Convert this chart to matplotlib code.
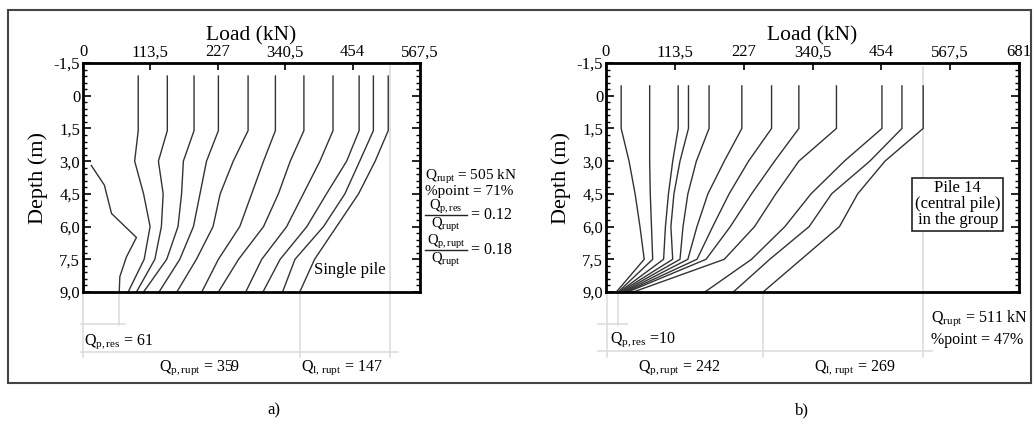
import numpy as np
import matplotlib
matplotlib.use("Agg")
import matplotlib.pyplot as plt
from matplotlib.ticker import MultipleLocator

plt.rcParams['font.family'] = ['Liberation Serif', 'DejaVu Serif']
plt.rcParams['mathtext.fontset'] = 'custom'
plt.rcParams['mathtext.rm'] = 'Liberation Serif'
plt.rcParams['mathtext.it'] = 'Liberation Serif:italic'

# ---- data (loads in kN, depths in m) ----
depth_a = [-0.9, 1.6, 3.0, 4.5, 6.0, 7.5, 9.0]
loads_a = [
    [93, 93, 87, 102, 113, 103, 76],
    [142, 142, 127, 135, 132, 121, 90],
    [187, 187, 169, 166, 160, 141, 102],
    [228, 228, 208, 197, 186, 163, 128],
    [278, 278, 253, 231, 219, 191, 158],
    [324, 324, 304, 284, 264, 228, 200],
    [372, 372, 349, 329, 304, 262, 228],
    [421, 421, 399, 371, 343, 301, 274],
    [465, 465, 444, 410, 377, 332, 303],
    [489, 489, 466, 441, 405, 357, 336],
    [514, 514, 492, 464, 427, 390, 365],
]
res_depth_a = [3.2, 4.1, 5.4, 6.5, 7.4, 8.3, 9.0]
res_load_a = [14, 36, 48, 90, 73, 62, 61]

depth_b = [-0.45, 1.5, 3.0, 4.5, 6.0, 7.5, 9.0]
loads_b = [
    [25, 25, 38, 48, 56, 63, 17],
    [72, 72, 72, 73, 75, 77, 20],
    [119, 119, 110, 103, 98, 95, 22],
    [136, 136, 122, 112, 107, 110, 24],
    [170, 170, 149, 135, 127, 122, 27],
    [224, 224, 195, 168, 150, 135, 30],
    [273, 273, 235, 203, 176, 150, 33],
    [318, 318, 278, 240, 205, 165, 36],
    [380, 380, 318, 280, 245, 195, 45],
    [455, 455, 393, 338, 295, 240, 163],
    [488, 488, 435, 372, 335, 270, 210],
    [523, 523, 460, 415, 385, 322, 259],
]

xticks_a = [0, 113.5, 227, 340.5, 454, 567.5]
xticks_b = [0, 113.5, 227, 340.5, 454, 567.5, 681]
yticks = [-1.5, 0, 1.5, 3.0, 4.5, 6.0, 7.5, 9.0]
ylabels = ["-1,5", "0", "1,5", "3,0", "4,5", "6,0", "7,5", "9,0"]

W, H = 1035, 432
fig = plt.figure(figsize=(W / 100, H / 100), dpi=100)


def fx(x):
    return x / W


def fy(y):
    return 1 - y / H


def xfmt(v):
    return f"{int(v)}" if v == int(v) else f"{v}".replace('.', ',')


def setup(ax, xt, xmax):
    ax.set_xlim(0, xmax)
    ax.set_ylim(9.0, -1.5)
    ax.xaxis.tick_top()
    ax.set_xticks(xt)
    ax.set_xticklabels([xfmt(v) for v in xt], fontsize=12)
    ax.set_yticks(yticks)
    ax.set_yticklabels(ylabels, fontsize=12)
    ax.yaxis.set_minor_locator(MultipleLocator(0.3))
    ax.tick_params(axis='y', which='both', direction='in', left=True, right=True, pad=2)
    ax.tick_params(axis='y', which='major', length=6, width=1.2)
    ax.tick_params(axis='y', which='minor', length=3, width=1)
    ax.tick_params(axis='x', which='major', direction='in', top=True, bottom=False,
                   length=5, width=1.2, pad=2)
    for s in ax.spines.values():
        s.set_linewidth(2)
    ax.set_xlabel("Load (kN)", fontsize=15.5, labelpad=3)
    ax.xaxis.set_label_position('top')
    ax.set_ylabel("Depth (m)", fontsize=16, labelpad=4)


lc = '#333333'
gc = '#dddddd'

# ---- panel a ----
ax1 = fig.add_axes([fx(83), fy(292), 337 / W, 229 / H])
setup(ax1, xticks_a, 567.5)
for ld in loads_a:
    ax1.plot(ld, depth_a, color=lc, lw=1.0)
ax1.plot(res_load_a, res_depth_a, color=lc, lw=1.0)
ax1.plot([517, 517], [-1.5, 12.0], color=gc, lw=1.2, clip_on=False, zorder=0)
ax1.plot([61, 61], [9.0, 10.5], color=gc, lw=1.2, clip_on=False)
ax1.plot([-3, 70], [10.45, 10.45], color=gc, lw=1.2, clip_on=False)
ax1.plot([-3, 530], [11.75, 11.75], color=gc, lw=1.2, clip_on=False)
ax1.plot([0, 0], [9.0, 12.0], color=gc, lw=1.2, clip_on=False)
ax1.plot([365, 365], [9.0, 12.0], color=gc, lw=1.2, clip_on=False)
ax1.text(450, 8.0, "Single pile", fontsize=12, ha='center', va='center')

fig.text(fx(84), fy(342), r"$\mathrm{Q_{p,res}}$ = 61", fontsize=11.5, va='center')
fig.text(fx(200), fy(368), r"$\mathrm{Q_{p,rupt}}$ = 359", fontsize=11.5, va='center', ha='center')
fig.text(fx(342), fy(368), r"$\mathrm{Q_{l,\,rupt}}$ = 147", fontsize=11.5, va='center', ha='center')
fig.text(fx(425), fy(180), r"$\mathrm{Q_{rupt}}$ = 505 kN", fontsize=11, va='baseline')
fig.text(fx(425), fy(195), "%point = 71%", fontsize=11, va='baseline')

# fractions drawn by hand: numerator, bar, denominator
for num, val, yc in [(r"$\mathrm{Q_{p,res}}$", "= 0.12", 215),
                     (r"$\mathrm{Q_{p,rupt}}$", "= 0.18", 250)]:
    fig.text(fx(446), fy(yc - 5), num, fontsize=10.5, ha='center', va='baseline')
    fig.add_artist(plt.Line2D([fx(425), fx(467)], [fy(yc), fy(yc)],
                              transform=fig.transFigure, color='#222222', lw=1.0))
    fig.text(fx(446), fy(yc + 13), r"$\mathrm{Q_{rupt}}$", fontsize=10.5, ha='center', va='baseline')
    fig.text(fx(471), fy(yc + 4), val, fontsize=11.5, va='baseline')

# ---- panel b ----
ax2 = fig.add_axes([fx(606), fy(292), 413 / W, 229 / H])
setup(ax2, xticks_b, 681)
for ld in loads_b:
    ax2.plot(ld, depth_b, color=lc, lw=1.0)
ax2.plot([523, 523], [-1.3, 12.0], color=gc, lw=1.2, clip_on=False, zorder=0)
ax2.plot([20, 20], [9.0, 10.5], color=gc, lw=1.2, clip_on=False)
ax2.plot([-13, 35], [10.45, 10.45], color=gc, lw=1.2, clip_on=False)
ax2.plot([-13, 538], [11.7, 11.7], color=gc, lw=1.2, clip_on=False)
ax2.plot([2, 2], [9.0, 12.0], color=gc, lw=1.2, clip_on=False)
ax2.plot([259, 259], [9.0, 12.0], color=gc, lw=1.2, clip_on=False)
ax2.text(580, 4.97, "Pile 14\n(central pile)\nin the group", fontsize=12, ha='center',
         va='center', linespacing=1.0,
         bbox=dict(boxstyle='square,pad=0.15', fc='white', ec='#222222', lw=1.2))

fig.text(fx(610), fy(340), r"$\mathrm{Q_{p,res}}$ =10", fontsize=11.5, va='center')
fig.text(fx(679), fy(368), r"$\mathrm{Q_{p,rupt}}$ = 242", fontsize=11.5, va='center', ha='center')
fig.text(fx(855), fy(368), r"$\mathrm{Q_{l,\,rupt}}$ = 269", fontsize=11.5, va='center', ha='center')
fig.text(fx(931), fy(318), r"$\mathrm{Q_{rupt}}$ = 511 kN", fontsize=11.5, va='center')
fig.text(fx(931), fy(340), "%point = 47%", fontsize=11.5, va='center')

# ---- outer frame and captions ----
frame = plt.Rectangle((fx(8), fy(383)), fx(1031) - fx(8), fy(10) - fy(383),
                      transform=fig.transFigure, fill=False, ec='#444444', lw=1.5)
fig.add_artist(frame)
fig.text(fx(274), fy(410), "a)", fontsize=12, ha='center', va='center')
fig.text(fx(802), fy(410), "b)", fontsize=12, ha='center', va='center')

fig.savefig("out.png", dpi=100)
